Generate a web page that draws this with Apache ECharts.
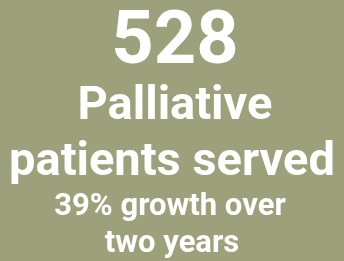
<!DOCTYPE html>
<html><head><meta charset="utf-8">
<script src="https://cdn.jsdelivr.net/npm/echarts@6/dist/echarts.min.js"></script>
<style>html,body{margin:0;padding:0;background:#9da17b;}#c{width:344px;height:261px;}</style>
</head><body><div id="c"></div>
<script>
const headlineValue = ['528'];
const titleLines = ['Palliative', 'patients served'];
const subtitleLines = ['39% growth over', 'two years'];

const chart = echarts.init(document.getElementById('c'), null, {renderer: 'canvas'});
function txt(t, x, y, size) {
  return {type: 'text', x: x, y: y, style: {text: t, fill: '#ffffff', font: 'bold ' + size + 'px Roboto', textAlign: 'center', textVerticalAlign: 'bottom'}};
}
const els = [];
els.push(txt(headlineValue[0], 175, 81, 74));
els.push(txt(titleLines[0], 175, 131, 47));
els.push(txt(titleLines[1], 172, 187, 47));
els.push(txt(subtitleLines[0], 170, 223, 31));
els.push(txt(subtitleLines[1], 172, 260, 31));
chart.setOption({backgroundColor: '#9da17b', graphic: els});
</script></body></html>
